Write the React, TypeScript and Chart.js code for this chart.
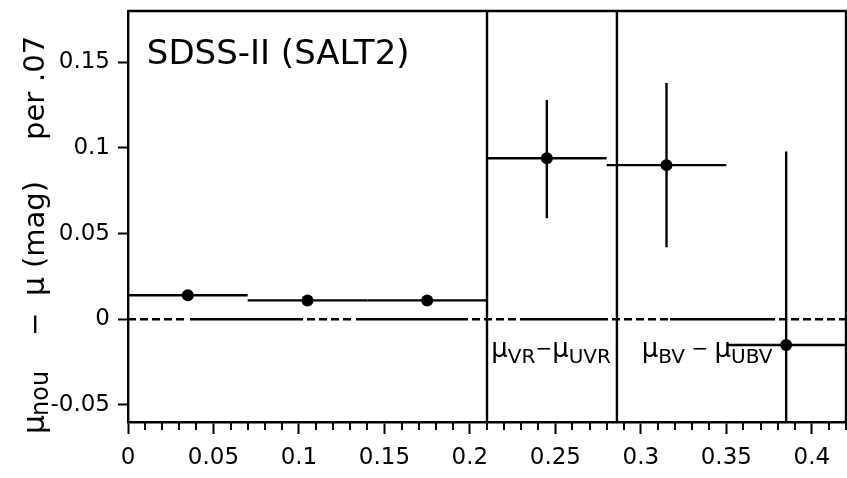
import React, { useEffect, useRef } from 'react';
import { Chart, registerables } from 'chart.js';
Chart.register(...registerables);

// ---- data ----
const binLo = [0, 0.07, 0.14, 0.21, 0.28, 0.35];
const binHi = [0.07, 0.14, 0.21, 0.28, 0.35, 0.42];
const binCenter = [0.035, 0.105, 0.175, 0.245, 0.315, 0.385];
const muDiff = [0.014, 0.011, 0.011, 0.094, 0.09, -0.015];
const errDown = [0.003, 0.003, 0.003, 0.035, 0.048, 0.113];
const errUp = [0.003, 0.003, 0.003, 0.034, 0.048, 0.113];
const sectionDividers = [0.21, 0.286];
const xTicks = [0, 0.05, 0.1, 0.15, 0.2, 0.25, 0.3, 0.35, 0.4];
const yTicks = [-0.05, 0, 0.05, 0.1, 0.15];
const xRange = [0, 0.42];
const yRange = [-0.06, 0.18];
const panelTitle = 'SDSS-II (SALT2)';

const FONT = '"DejaVu Sans", "Liberation Sans", sans-serif';
const LW = 2.4;
const zeroDash = [8, 4, 8, 4, 8, 4, 8, 4, 8, 6, 113, 4, 8, 4, 8, 4, 8, 4, 8, 5, 112, 4, 8, 4, 8, 4, 8, 4, 8, 4, 88, 4, 8, 4, 8, 4, 8, 4, 8, 4, 8, 2, 105, 4, 8, 4, 8, 4, 8, 4, 8, 4, 8, 4];

type Run = { t: string; size: number; dy: number };

function drawRuns(ctx: CanvasRenderingContext2D, runs: Run[], x0: number, y0: number) {
  let x = x0;
  for (const r of runs) {
    ctx.font = `${r.size}px ${FONT}`;
    ctx.fillText(r.t, x, y0 + r.dy);
    x += ctx.measureText(r.t).width;
  }
}

const decor = {
  id: 'decor',
  afterDraw(chart: any) {
    const { ctx, chartArea: a, scales } = chart;
    const x = scales.x;
    const y = scales.y;
    ctx.save();
    ctx.strokeStyle = '#000';
    ctx.fillStyle = '#000';
    ctx.lineWidth = LW;
    // frame top / right
    ctx.beginPath();
    ctx.moveTo(a.left, a.top);
    ctx.lineTo(a.right, a.top);
    ctx.lineTo(a.right, a.bottom);
    ctx.stroke();
    // minor x ticks
    ctx.lineWidth = 2;
    ctx.beginPath();
    for (let i = 1; i <= 42; i++) {
      if (i % 5 === 0) continue;
      const px = Math.round(x.getPixelForValue(i / 100));
      ctx.moveTo(px, a.bottom);
      ctx.lineTo(px, a.bottom + 8);
    }
    ctx.stroke();
    // panel title
    ctx.textBaseline = 'alphabetic';
    ctx.textAlign = 'left';
    ctx.font = `34px ${FONT}`;
    ctx.fillText(panelTitle, x.getPixelForValue(0.011), y.getPixelForValue(0.149));
    // section annotations
    drawRuns(ctx, [
      { t: 'μ', size: 26, dy: 0 },
      { t: 'VR', size: 20, dy: 6 },
      { t: '−', size: 20, dy: -2 },
      { t: 'μ', size: 26, dy: 0 },
      { t: 'UVR', size: 20, dy: 6 },
    ], x.getPixelForValue(0.2125), y.getPixelForValue(-0.022));
    drawRuns(ctx, [
      { t: 'μ', size: 26, dy: 0 },
      { t: 'BV', size: 20, dy: 6 },
      { t: ' − ', size: 20, dy: -2 },
      { t: 'μ', size: 26, dy: 0 },
      { t: 'UBV', size: 20, dy: 6 },
    ], x.getPixelForValue(0.3005), y.getPixelForValue(-0.022));
    // y axis title (rotated)
    ctx.translate(44, 0);
    ctx.rotate(-Math.PI / 2);
    const seg = (t: string, size: number, startY: number, dy = 0) => {
      ctx.font = `${size}px ${FONT}`;
      ctx.fillText(t, -startY, dy);
    };
    seg('μ', 30, 434);
    seg('nou', 24, 416, 4);
    seg('−', 28, 336);
    seg('μ', 30, 296);
    seg('(mag)', 29, 268);
    seg('per', 29, 140);
    seg('.07', 29, 82);
    ctx.restore();
  },
};

export default function App() {
  const ref = useRef<HTMLCanvasElement>(null);
  useEffect(() => {
    if (!ref.current) return;
    const lineDs = (pts: { x: number; y: number }[], extra: any = {}) => ({
      type: 'line',
      data: pts,
      borderColor: '#000',
      borderWidth: LW,
      pointRadius: 0,
      fill: false,
      tension: 0,
      ...extra,
    });
    const datasets: any[] = [];
    datasets.push(lineDs([{ x: xRange[0], y: 0 }, { x: xRange[1], y: 0 }], { borderDash: zeroDash }));
    sectionDividers.forEach((d) => datasets.push(lineDs([{ x: d, y: yRange[0] }, { x: d, y: yRange[1] }])));
    binCenter.forEach((c, i) => {
      datasets.push(lineDs([{ x: binLo[i], y: muDiff[i] }, { x: binHi[i], y: muDiff[i] }]));
      datasets.push(lineDs([{ x: c, y: muDiff[i] - errDown[i] }, { x: c, y: muDiff[i] + errUp[i] }]));
    });
    datasets.push({
      type: 'scatter',
      data: binCenter.map((c, i) => ({ x: c, y: muDiff[i] })),
      pointRadius: 6,
      pointBackgroundColor: '#000',
      pointBorderWidth: 0,
      showLine: false,
    });
    const tickFont = { family: FONT, size: 23 };
    const chart = new Chart(ref.current, {
      type: 'scatter',
      data: { datasets },
      options: {
        animation: false,
        responsive: true,
        maintainAspectRatio: false,
        layout: { autoPadding: false, padding: { left: 0, top: 11, right: 1, bottom: 0 } },
        plugins: { legend: { display: false }, tooltip: { enabled: false } },
        scales: {
          x: {
            type: 'linear',
            min: xRange[0],
            max: xRange[1],
            afterBuildTicks: (s: any) => { s.ticks = xTicks.map((v) => ({ value: v })); },
            afterFit: (s: any) => { s.height = 56; s.paddingLeft = 0; s.paddingRight = 0; },
            ticks: { color: '#000', font: tickFont, padding: 10, maxRotation: 0, autoSkip: false, callback: (v: any) => String(v) },
            grid: { drawOnChartArea: false, drawTicks: true, tickLength: 12, tickWidth: 2, tickColor: '#000' },
            border: { display: true, color: '#000', width: LW },
          },
          y: {
            type: 'linear',
            min: yRange[0],
            max: yRange[1],
            afterBuildTicks: (s: any) => { s.ticks = yTicks.map((v) => ({ value: v })); },
            afterFit: (s: any) => { s.width = 128; s.paddingTop = 0; s.paddingBottom = 0; },
            ticks: { color: '#000', font: tickFont, padding: 8, autoSkip: false, callback: (v: any) => String(v) },
            grid: { drawOnChartArea: false, drawTicks: true, tickLength: 10, tickWidth: 2, tickColor: '#000' },
            border: { display: true, color: '#000', width: LW },
          },
        },
      },
      plugins: [decor],
    } as any);
    return () => chart.destroy();
  }, []);
  return (
    <div style={{ position: 'fixed', left: 0, top: 0, width: 847, height: 478, background: '#fff' }}>
      <canvas ref={ref} />
    </div>
  );
}
